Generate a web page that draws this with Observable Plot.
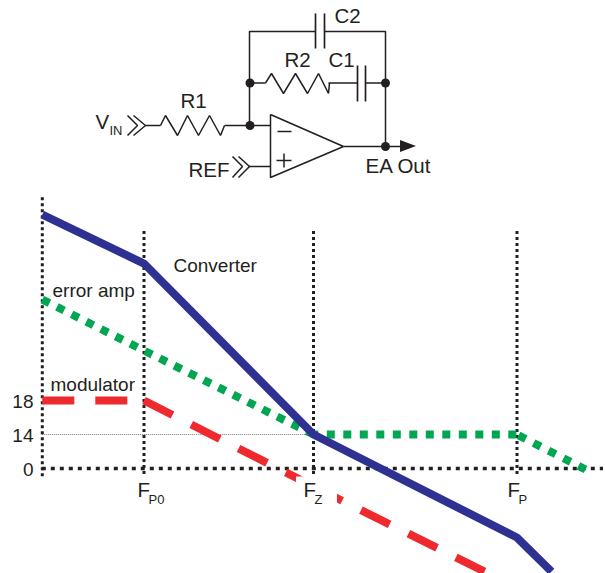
<!DOCTYPE html>
<html>
<head>
<meta charset="utf-8">
<script src="https://cdn.jsdelivr.net/npm/d3@7"></script>
<script src="https://cdn.jsdelivr.net/npm/@observablehq/plot@0.6"></script>
<style>
html,body{margin:0;padding:0;background:#fff}
svg{display:block}
</style>
</head>
<body>
<div id="chart"></div>
<script>
const INK = "#231f20";
const FONT = "'Liberation Sans', Arial, sans-serif";

// ---- circuit schematic (page-like units) ----
const wires = [
  [[315,31],[249,31],[249,125]],
  [[324,31],[385,31],[385,146]],
  [[249,82.5],[265,82.5]],
  [[328,82.5],[357,82.5]],
  [[365,82.5],[385,82.5]],
  [[145,125],[160,125]],
  [[224,125],[270,125]],
  [[248,166],[270,166]],
  [[343,146],[400,146]]
];
const r1Zigzag = [[160,125],[165,115],[177,135],[187,115],[198,135],[209,115],[220,135],[224,125]];
const r2Zigzag = [[265,82.5],[271,73],[283,93],[295,73],[307,93],[318,73],[328,93],[329,82.5]];
const plates = [
  [[315,13],[315,48]], [[324,13],[324,48]],
  [[357,65],[357,101]], [[365,65],[365,101]]
];
const opAmp = [[270,114],[343,146],[270,177],[270,114]];
const signs = [[[277,131],[291,131]], [[276,160],[291,160]], [[283.5,153],[283.5,167]]];
const chevrons = [
  [[127,115],[137,125],[127,135]], [[133,115],[145,125],[133,135]],
  [[232,156],[242,166],[232,177]], [[238,156],[249,166],[238,177]]
];
const arrowHead = [[400,140,152],[416,146,146]];
const nodes = [[249.5,82.5],[249.5,125],[385,82.5],[385,146]];
const circuitLabels = [
  {t:"C2",x:334,y:22},{t:"R2",x:284,y:66},{t:"C1",x:328,y:66},{t:"R1",x:180,y:107},
  {t:"V",x:95,y:128},{t:"REF",x:188,y:176},{t:"EA Out",x:365,y:172}
];
const circuitSubs = [{t:"IN",x:109,y:134}];

// ---- gain plot (x: position along log frequency, y: gain in dB) ----
const yDomain = [-43.2,0,14,18,79.8];
const fP0 = 143.5, fZ = 313, fP = 516.5, xStart = 41.8;
const converter = [[xStart,72.7],[fP0,58.3],[fZ,14],[fP,-28.4],[551,-42.4]];
const errorAmpLow = [[xStart,47.7],[fP0,32.7],[fZ,14]];
const errorAmpFlat = [[fZ,14],[fP,14]];
const errorAmpRolloff = [[fP,14],[585,-0.4]];
const modFlat = [[xStart,18],[127,18]];
const modSlopeA = [[fP0,18],[fZ,-7.4]];
const modSlopeB = [[fZ,-7.4],[484,-42.4]];
const yTicks = [0,14,18];
const corners = [
  {name:"F",sub:"P0",x:fP0,fx:137,sx:148},
  {name:"F",sub:"Z",x:fZ,fx:303,sx:314},
  {name:"F",sub:"P",x:fP,fx:507,sx:518}
];
const guideTops = [{x:xStart,top:77.7},{x:fP0,top:67.7},{x:fZ,top:67.7},{x:fP,top:67.7}];
const seriesLabels = [
  {t:"Converter",x:173,y:55.9},
  {t:"error amp",x:52,y:48.5},
  {t:"modulator",x:50,y:20.7}
];

const line = (pts,o) => Plot.line(pts,{x:d=>d[0],y:d=>d[1],...o});
const wire = {stroke:INK,strokeWidth:1.5,strokeLinecap:"butt",strokeLinejoin:"miter"};
const label = (rows,size,extra={}) => Plot.text(rows,{x:"x",y:"y",text:"t",textAnchor:"start",lineAnchor:"bottom",fontSize:size,fill:INK,...extra});
const thick = (color,dash,offset=0) => ({stroke:color,strokeWidth:8,strokeLinecap:"butt",strokeLinejoin:"miter",strokeDasharray:dash,strokeDashoffset:offset});

const circuit = Plot.plot({
  width:605,height:190,margin:0,
  style:{fontFamily:FONT,background:"#fff"},
  x:{domain:[0,605],range:[0,605],axis:null},
  y:{domain:[190,0],range:[190,0],axis:null},
  marks:[
    ...wires.map(w=>line(w,wire)),
    line(r1Zigzag,wire), line(r2Zigzag,wire),
    ...plates.map(p=>line(p,{...wire,strokeWidth:1.7})),
    line(opAmp,wire),
    ...signs.map(s=>line(s,wire)),
    ...chevrons.map(c=>line(c,wire)),
    Plot.areaY(arrowHead,{x:d=>d[0],y1:d=>d[1],y2:d=>d[2],fill:INK}),
    Plot.dot(nodes,{x:d=>d[0],y:d=>d[1],r:4.5,fill:INK,stroke:"none"}),
    label(circuitLabels,20.5),
    label(circuitSubs,13)
  ]
});

const gain = Plot.plot({
  width:605,height:383,marginLeft:42,marginTop:0,marginRight:0,marginBottom:0,
  style:{fontFamily:FONT,background:"#fff"},
  x:{domain:[42,605],range:[42,605],axis:null},
  y:{type:"linear",domain:yDomain,range:[383,278,244,210,0],axis:null},
  marks:[
    Plot.axisY({ticks:yTicks,tickSize:0,tickPadding:9,fontSize:19,fill:INK,label:null,tickFormat:d=>String(d),dy:1}),
    Plot.ruleY([14],{x1:xStart,x2:fZ,stroke:INK,strokeWidth:0.6,strokeDasharray:"1 1"}),
    Plot.ruleX(guideTops,{x:"x",y1:"top",y2:-3.4,stroke:INK,strokeWidth:3,strokeDasharray:"3 3"}),
    Plot.ruleY([0],{x1:xStart,x2:603,stroke:INK,strokeWidth:3.5,strokeDasharray:"4 5"}),
    line(modFlat,thick("#ee2a2e","32 21")),
    line(modSlopeA,thick("#ee2a2e","32 21")),
    line(modSlopeB,thick("#ee2a2e","32 21")),
    Plot.rect([{x1:296,x2:337,y1:-3.5,y2:-16}],{x1:"x1",x2:"x2",y1:"y1",y2:"y2",fill:"#fff"}),
    line(errorAmpLow,thick("#00a651","8 8.4")),
    line(errorAmpFlat,thick("#00a651","8 8.5",3.2)),
    line(errorAmpRolloff,thick("#00a651","8 8.8",15)),
    line(converter,{stroke:"#2e3192",strokeWidth:8,strokeLinecap:"butt",strokeLinejoin:"miter"}),
    label(seriesLabels,19),
    label(corners.map(c=>({t:c.name,x:c.fx,y:-11.9})),20.5),
    label(corners.map(c=>({t:c.sub,x:c.sx,y:-14.4})),13)
  ]
});

const root = document.getElementById("chart");
root.append(circuit, gain);
</script>
</body>
</html>
